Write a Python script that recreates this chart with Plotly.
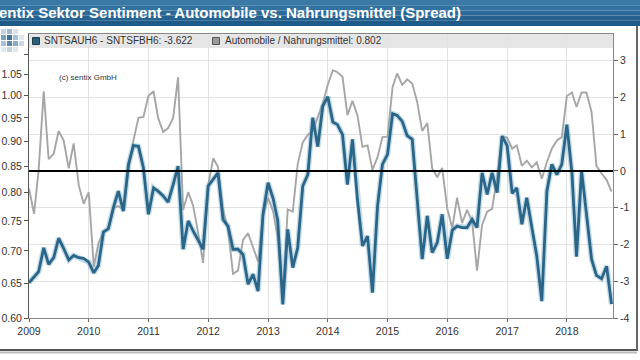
import pandas as pd
import plotly.graph_objects as go

# ---------------- data ----------------
months = pd.date_range("2009-01-01", periods=118, freq="MS")

spread = [
    -3.04, -2.88, -2.74, -2.09, -2.54, -2.36, -1.83, -2.11, -2.42, -2.30, -2.36, -2.38,   # 2009
    -2.48, -2.77, -2.57, -1.66, -1.57, -1.00, -0.55, -1.09, 0.18, 0.69, 0.67, 0.09,       # 2010
    -1.18, -0.46, -0.55, -0.68, -0.85, -0.37, 0.13, -2.13, -1.36, -1.63, -1.90, -2.13,    # 2011
    -0.41, -0.23, -0.05, -1.32, -1.50, -2.13, -2.13, -2.27, -3.08, -2.81, -3.27, -1.18,   # 2012
    -0.32, -0.75, -1.35, -3.63, -1.59, -2.63, -2.09, -0.41, -0.10, 1.45, 0.66, 1.76,      # 2013
    2.02, 1.33, 1.26, 0.99, -0.37, 0.86, -0.77, -2.04, -1.77, -3.31, -0.96, 0.18,         # 2014
    0.45, 1.56, 1.51, 1.35, 0.96, 0.86, -0.77, -2.40, -1.22, -2.22, -1.95, -1.18,         # 2015
    -2.39, -1.61, -1.50, -1.54, -1.54, -1.32, -1.54, -0.05, -0.64, -0.05, -0.59, 0.95,    # 2016
    0.69, -0.61, -0.46, -1.45, -0.73, -1.59, -2.31, -3.54, -0.55, 0.18, -0.10, 0.18,      # 2017
    1.26, -0.05, -2.33, 0.01, -1.14, -2.40, -2.84, -2.93, -2.59, -3.622,                  # 2018
]

ratio = [
    0.808, 0.762, 0.843, 1.010, 0.864, 0.875, 0.922, 0.902, 0.846, 0.896, 0.814, 0.780,  # 2009
    0.801, 0.675, 0.712, 0.732, 0.736, 0.772, 0.776, 0.769, 0.843, 0.902, 0.950, 0.952,  # 2010
    0.999, 1.010, 0.950, 0.920, 0.928, 0.950, 1.043, 0.769, 0.801, 0.777, 0.729, 0.681,  # 2011
    0.814, 0.866, 0.849, 0.769, 0.736, 0.664, 0.669, 0.718, 0.729, 0.706, 0.683, 0.758,  # 2012
    0.791, 0.766, 0.722, 0.630, 0.770, 0.766, 0.854, 0.898, 0.914, 0.922, 0.951, 0.982,  # 2013
    1.025, 1.060, 1.055, 1.044, 0.956, 0.988, 0.956, 0.889, 0.892, 0.843, 0.868, 0.909,  # 2014
    0.910, 1.020, 1.052, 1.025, 1.038, 1.028, 0.986, 0.922, 0.939, 0.846, 0.829, 0.847,  # 2015
    0.772, 0.737, 0.791, 0.746, 0.769, 0.749, 0.669, 0.743, 0.766, 0.771, 0.830, 0.910,  # 2016
    0.908, 0.885, 0.892, 0.851, 0.861, 0.848, 0.858, 0.826, 0.858, 0.885, 0.902, 0.909,  # 2017
    0.999, 1.007, 0.974, 1.007, 1.007, 0.963, 0.851, 0.836, 0.824, 0.802,                # 2018
]

years = list(range(2009, 2019))
left_ticks = [0.60, 0.65, 0.70, 0.75, 0.80, 0.85, 0.90, 0.95, 1.00, 1.05, 1.10]
right_ticks = [-4, -3, -2, -1, 0, 1, 2, 3]

title_text = "Sentix Sektor Sentiment - Automobile vs. Nahrungsmittel (Spread)"
spread_name = f"SNTSAUH6 - SNTSFBH6: {spread[-1]:.3f}"
ratio_name = f"Automobile / Nahrungsmittel: {ratio[-1]:.3f}"

# ---------------- geometry ----------------
W, H = 640, 360
L, R, T, B = 29, 27, 34, 42
PW, PH = W - L - R, H - T - B


def px(x):
    return (x - L) / PW


def py(y):
    return (H - B - y) / PH


FONT = "Liberation Sans, Arial, sans-serif"
BLUE = "#2b6587"
GRAY = "#a6a6a6"

fig = go.Figure()

fig.add_trace(go.Scatter(
    x=months, y=ratio, yaxis="y", mode="lines", name=ratio_name,
    line=dict(color=GRAY, width=1.9), showlegend=False, hoverinfo="skip"))
fig.add_trace(go.Scatter(
    x=months, y=spread, yaxis="y2", mode="lines",
    line=dict(color="rgba(120,175,205,0.45)", width=5.5), showlegend=False,
    hoverinfo="skip"))
fig.add_trace(go.Scatter(
    x=months, y=spread, yaxis="y2", mode="lines", name=spread_name,
    line=dict(color=BLUE, width=2.8), showlegend=False))

shapes = []
# title band (stacked bands to imitate gradient)
band_cols = ["#3b7aa6", "#3272a0", "#2b6a98", "#256290", "#1f5b88"]
for k, c in enumerate(band_cols):
    shapes.append(dict(type="rect", xref="paper", yref="paper",
                       x0=px(0), x1=px(W), y0=py(5.2 * (k + 1)), y1=py(5.2 * k),
                       fillcolor=c, line=dict(width=0), layer="below"))
# legend band inside plot
shapes.append(dict(type="rect", xref="paper", yref="paper",
                   x0=0, x1=1, y0=py(48), y1=1,
                   fillcolor="#e6e6e6", line=dict(width=0), layer="below"))
# legend squares
shapes.append(dict(type="rect", xref="paper", yref="paper",
                   x0=px(32.5), x1=px(39.5), y0=py(44.5), y1=py(37.5),
                   fillcolor="#2d5d76", line=dict(color="#1d3d50", width=1)))
shapes.append(dict(type="rect", xref="paper", yref="paper",
                   x0=px(212.5), x1=px(219.5), y0=py(44.5), y1=py(37.5),
                   fillcolor="#9a9a9a", line=dict(color="#555555", width=1)))
# zero line
shapes.append(dict(type="line", xref="paper", yref="y2", x0=0, x1=1, y0=0, y1=0,
                   line=dict(color="black", width=2)))
# frame shadow (bottom and right)
shapes.append(dict(type="line", xref="paper", yref="paper",
                   x0=px(0), x1=px(637), y0=py(350), y1=py(350),
                   line=dict(color="#555555", width=2)))
shapes.append(dict(type="line", xref="paper", yref="paper",
                   x0=px(0), x1=px(637), y0=py(352.5), y1=py(352.5),
                   line=dict(color="#bbbbbb", width=2)))
shapes.append(dict(type="line", xref="paper", yref="paper",
                   x0=px(637), x1=px(637), y0=py(26), y1=py(351),
                   line=dict(color="#666666", width=2)))
# logo (white backing + small squares)
shapes.append(dict(type="rect", xref="paper", yref="paper",
                   x0=px(0), x1=px(23), y0=py(58), y1=py(26),
                   fillcolor="white", line=dict(width=0), layer="above"))
logo = [
    (0, 0, "#c3d3e2"), (1, 0, "#9fb8cf"), (2, 0, "#d8e2ec"),
    (0, 1, "#7c9fbf"), (1, 1, "#3f6f99"), (2, 1, "#a9c0d5"), (3, 1, "#dfe7ef"),
    (0, 2, "#a9c0d5"), (1, 2, "#5d88ad"), (2, 2, "#8aa9c6"), (3, 2, "#c9d7e4"),
    (0, 3, "#dfe7ef"), (1, 3, "#c3d3e2"), (2, 3, "#dfe7ef"),
]
for cx, cy, c in logo:
    x0 = 1 + cx * 6
    y0 = 29 + cy * 6
    shapes.append(dict(type="rect", xref="paper", yref="paper",
                       x0=px(x0), x1=px(x0 + 5), y0=py(y0 + 5), y1=py(y0),
                       fillcolor=c, line=dict(width=0), layer="above"))

annotations = [
    dict(text="<b>" + title_text + "</b>", xref="paper", yref="paper",
         x=px(-13), y=py(13), xanchor="left", yanchor="middle", showarrow=False,
         font=dict(family=FONT, size=15, color="white")),
    dict(text=spread_name, xref="paper", yref="paper", x=px(42), y=py(41),
         xanchor="left", yanchor="middle", showarrow=False,
         font=dict(family=FONT, size=10, color="#333333")),
    dict(text=ratio_name, xref="paper", yref="paper", x=px(223), y=py(41),
         xanchor="left", yanchor="middle", showarrow=False,
         font=dict(family=FONT, size=10, color="#333333")),
    dict(text="(c) sentix GmbH", xref="paper", yref="paper", x=px(57), y=py(77.5),
         xanchor="left", yanchor="middle", showarrow=False,
         font=dict(family=FONT, size=8, color="#333333")),
]

fig.update_layout(
    width=W, height=H, autosize=False,
    margin=dict(l=L, r=R, t=T, b=B, pad=0, autoexpand=False),
    paper_bgcolor="white", plot_bgcolor="white",
    showlegend=False,
    font=dict(family=FONT, size=10.5, color="#333333"),
    shapes=shapes, annotations=annotations,
    xaxis=dict(
        type="date", range=["2009-01-01", "2018-10-10"], automargin=False,
        tickvals=[f"{y}-01-01" for y in years], ticktext=[str(y) for y in years],
        showgrid=True, gridcolor="#e2e2e2", gridwidth=1,
        ticks="outside", ticklen=3, tickcolor="#666666",
        showline=True, linecolor="#888888", linewidth=1, mirror=True,
        tickfont=dict(size=10.5, color="#333333"), zeroline=False,
    ),
    yaxis=dict(
        type="log", range=[-0.22185, 0.0614], automargin=False,
        tickvals=left_ticks, ticktext=[f"{v:.2f}" for v in left_ticks],
        showgrid=False, ticks="outside", ticklen=4, tickcolor="#555555",
        showline=True, linecolor="#555555", linewidth=1,
        tickfont=dict(size=10.5, color="#333333"), zeroline=False,
    ),
    yaxis2=dict(
        overlaying="y", side="right", range=[-4, 3.726], automargin=False,
        tickvals=right_ticks, ticktext=[str(v) for v in right_ticks],
        showgrid=True, gridcolor="#e2e2e2", gridwidth=1,
        ticks="outside", ticklen=4, tickcolor="#666666",
        showline=True, linecolor="#888888", linewidth=1,
        tickfont=dict(size=10.5, color="#333333"), zeroline=False,
    ),
)

fig.write_html("out.html",
               config={"displayModeBar": False},
               post_script="document.body.style.margin='0px';"
                           "document.body.style.overflow='hidden';")
